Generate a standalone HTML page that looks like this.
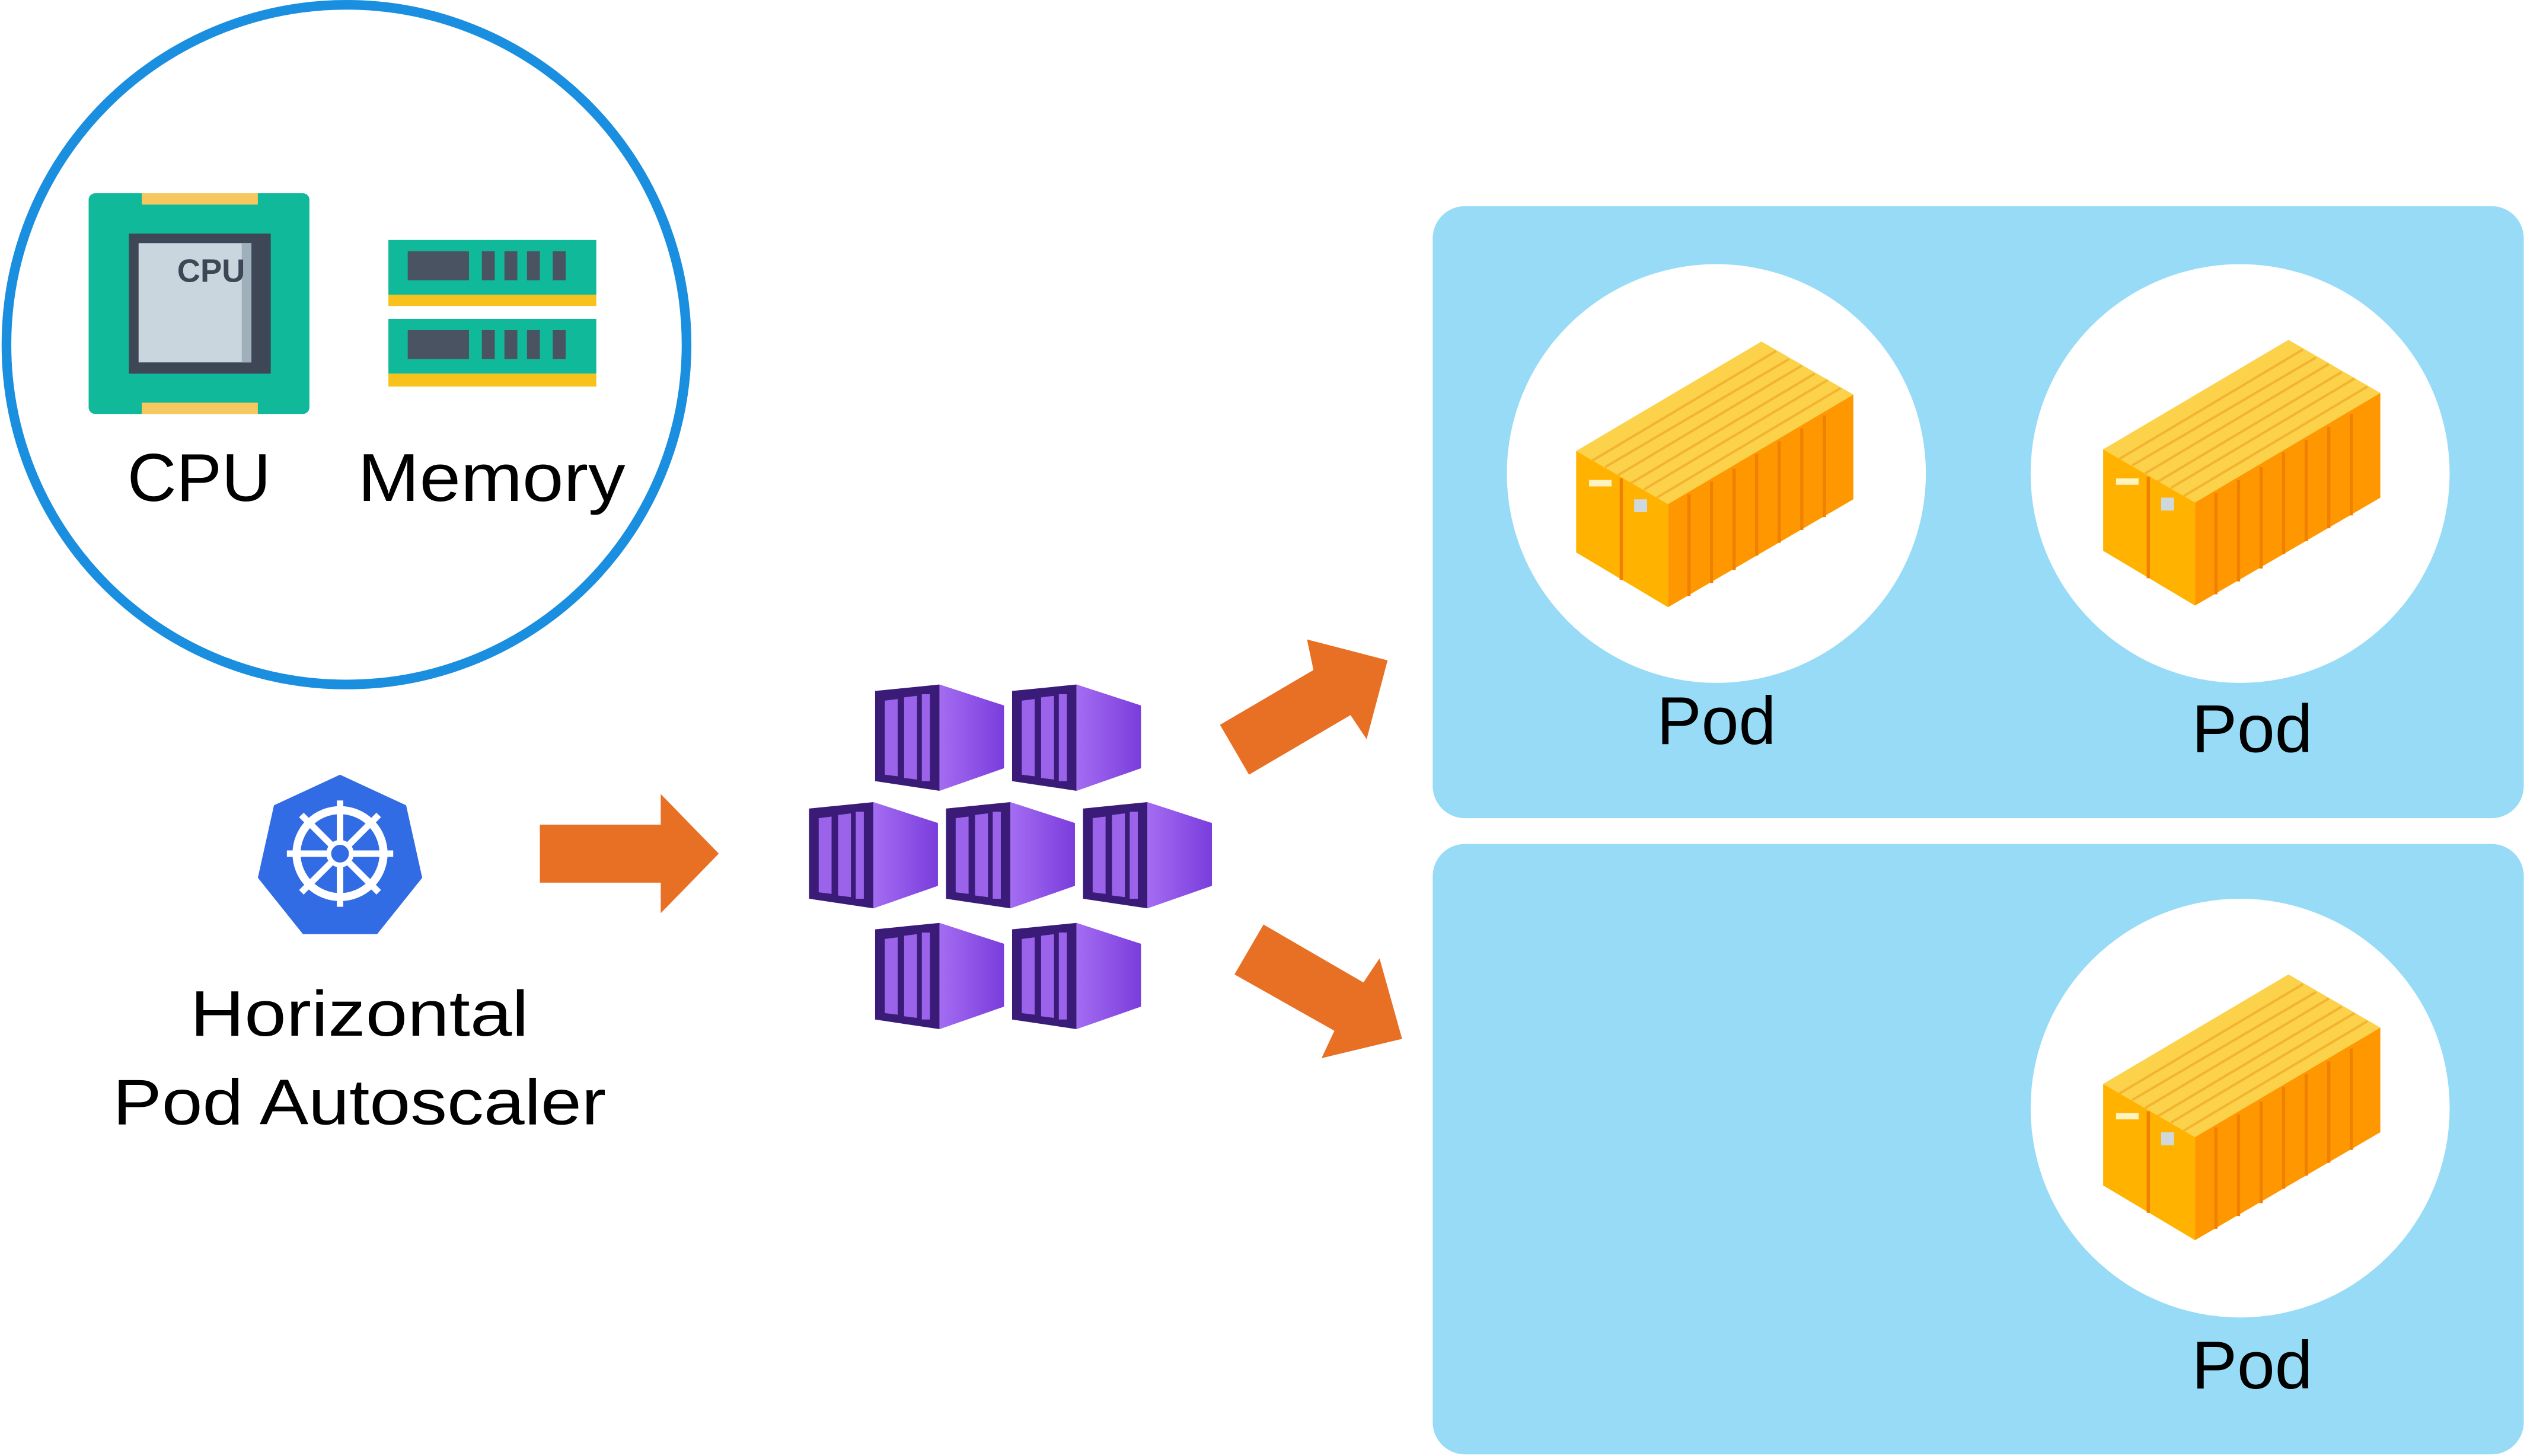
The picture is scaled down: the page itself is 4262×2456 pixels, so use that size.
<!DOCTYPE html>
<html><head><meta charset="utf-8"><style>html,body{margin:0;padding:0;background:#fff}svg{display:block}</style></head>
<body>
<svg width="4262" height="2456" viewBox="0 0 1568 904" preserveAspectRatio="none" xmlns="http://www.w3.org/2000/svg" font-family="Liberation Sans, sans-serif">
<defs>
<linearGradient id="pg" x1="0" y1="0" x2="1" y2="0"><stop offset="0" stop-color="#a46cf2"/><stop offset="1" stop-color="#7a3ddc"/></linearGradient>
<g id="cube">
<polygon points="0,4 40,0 40,66 0,60" fill="#3a1c78"/>
<polygon points="6,10 14,9 14,57 6,56" fill="#9b63ea"/>
<polygon points="18,8 26,7 26,59 18,58" fill="#9b63ea"/>
<polygon points="29,6 34,6 34,60 29,60" fill="#9b63ea"/>
<polygon points="40,0 80,13 80,52 40,66" fill="url(#pg)"/>
</g>
<g id="cont">
<polygon points="0,68 115,0 172,33 57,101" fill="#fcd24a"/>
<g stroke="#f2b431" stroke-width="1.5">
<line x1="10" y1="74" x2="124" y2="6"/><line x1="18" y1="78" x2="132" y2="11"/><line x1="26" y1="83" x2="140" y2="15"/><line x1="34" y1="88" x2="148" y2="20"/><line x1="42" y1="92" x2="156" y2="24"/><line x1="50" y1="97" x2="164" y2="29"/>
</g>
<polygon points="0,68 57,101 57,165 0,131" fill="#ffb300"/>
<polygon points="57,101 172,33 172,98 57,165" fill="#ff9800"/>
<g stroke="#f08000" stroke-width="2">
<line x1="70" y1="95" x2="70" y2="158"/><line x1="84" y1="87" x2="84" y2="150"/><line x1="98" y1="79" x2="98" y2="142"/><line x1="112" y1="70" x2="112" y2="133"/><line x1="126" y1="62" x2="126" y2="125"/><line x1="140" y1="54" x2="140" y2="117"/><line x1="154" y1="46" x2="154" y2="109"/>
<line x1="28" y1="85" x2="28" y2="148"/>
</g>
<rect x="36" y="98" width="8" height="8" fill="#cfd8dc"/>
<rect x="8" y="86" width="14" height="4" fill="#fff3c0"/>
</g>
</defs>
<circle cx="215" cy="214" r="211" fill="#fff" stroke="#1a8fdf" stroke-width="6"/>
<rect x="55" y="120" width="137" height="137" rx="4" fill="#10b99a"/>
<rect x="88" y="120" width="72" height="7" fill="#f6c85f"/><rect x="88" y="250" width="72" height="7" fill="#f6c85f"/>
<rect x="80" y="145" width="88" height="87" fill="#3d4756"/>
<rect x="86" y="151" width="70" height="74" fill="#c9d6de"/>
<rect x="150" y="151" width="6" height="74" fill="#9fb0bb"/>
<text x="131" y="175" font-size="20" font-weight="bold" fill="#3d4756" text-anchor="middle">CPU</text>
<g fill="#10b99a"><rect x="241" y="149" width="129" height="34"/><rect x="241" y="198" width="129" height="34"/></g>
<g fill="#f6c21b"><rect x="241" y="183" width="129" height="7"/><rect x="241" y="232" width="129" height="8"/></g>
<g fill="#4a5361"><rect x="253" y="156" width="38" height="18"/><rect x="299" y="156" width="8" height="18"/><rect x="313" y="156" width="8" height="18"/><rect x="327" y="156" width="8" height="18"/><rect x="343" y="156" width="8" height="18"/>
<rect x="253" y="205" width="38" height="18"/><rect x="299" y="205" width="8" height="18"/><rect x="313" y="205" width="8" height="18"/><rect x="327" y="205" width="8" height="18"/><rect x="343" y="205" width="8" height="18"/></g>
<text x="79" y="311" font-size="42" textLength="89" lengthAdjust="spacingAndGlyphs">CPU</text>
<text x="222" y="311" font-size="42" textLength="166" lengthAdjust="spacingAndGlyphs">Memory</text>
<polygon points="211,481 252,500 262,545 234,580 188,580 160,545 170,500" fill="#326ce5"/>
<circle cx="211" cy="530" r="27" fill="none" stroke="#fff" stroke-width="5"/>
<g stroke="#fff" stroke-width="4"><line x1="211" y1="497" x2="211" y2="563"/><line x1="178" y1="530" x2="244" y2="530"/><line x1="187" y1="506" x2="235" y2="554"/><line x1="235" y1="506" x2="187" y2="554"/></g>
<circle cx="211" cy="530" r="7" fill="#326ce5" stroke="#fff" stroke-width="3"/>
<text x="118" y="643" font-size="40" textLength="210" lengthAdjust="spacingAndGlyphs">Horizontal</text>
<text x="70" y="698" font-size="40" textLength="306" lengthAdjust="spacingAndGlyphs">Pod Autoscaler</text>
<polygon points="335,512 410,512 410,493 446,530 410,567 410,548 335,548" fill="#e87025"/>
<polygon points="757,450 815,416 811,397 861,410 848,459 838,444 775,481" fill="#e87025"/>
<polygon points="784,574 846,610 856,595 870,645 820,657 828,640 766,605" fill="#e87025"/>
<use href="#cube" x="543" y="425"/><use href="#cube" x="628" y="425"/>
<use href="#cube" x="502" y="498"/><use href="#cube" x="587" y="498"/><use href="#cube" x="672" y="498"/>
<use href="#cube" x="543" y="573"/><use href="#cube" x="628" y="573"/>
<rect x="889" y="128" width="677" height="380" rx="20" fill="#97dbf7"/>
<rect x="889" y="524" width="677" height="379" rx="20" fill="#97dbf7"/>
<circle cx="1065" cy="294" r="130" fill="#fff"/>
<circle cx="1390" cy="294" r="130" fill="#fff"/>
<circle cx="1390" cy="688" r="130" fill="#fff"/>
<use href="#cont" x="978" y="212"/><use href="#cont" x="1305" y="211"/><use href="#cont" x="1305" y="605"/>
<text x="1028" y="462" font-size="42" textLength="74" lengthAdjust="spacingAndGlyphs">Pod</text>
<text x="1360" y="467" font-size="42" textLength="75" lengthAdjust="spacingAndGlyphs">Pod</text>
<text x="1360" y="862" font-size="42" textLength="75" lengthAdjust="spacingAndGlyphs">Pod</text>
</svg>
</body></html>
